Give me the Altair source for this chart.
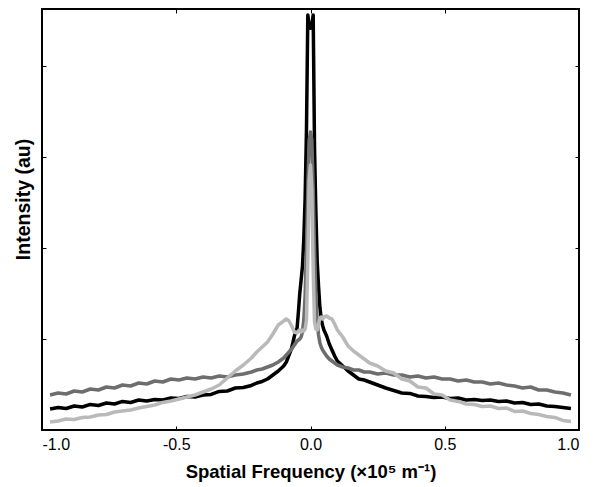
import altair as alt
import pandas as pd

# spatial frequency (x 1e5 m^-1)
freq = [-0.97,-0.94,-0.91,-0.88,-0.85,-0.82,-0.79,-0.76,-0.73,-0.70,-0.67,-0.64,-0.61,-0.58,-0.55,-0.52,-0.49,-0.46,-0.43,-0.40,-0.37,-0.34,-0.31,-0.28,-0.25,
        -0.22,-0.20,-0.18,-0.16,-0.14,-0.12,-0.10,-0.09,-0.08,-0.07,-0.06,
        -0.05,-0.045,-0.04,-0.035,-0.03,-0.025,-0.02,-0.015,-0.01,-0.005,0.0,0.005,0.01,0.015,0.02,0.025,0.03,0.035,0.04,0.045,0.05,
        0.06,0.07,0.08,0.09,0.10,0.12,0.14,0.16,0.18,0.20,0.22,
        0.25,0.28,0.31,0.34,0.37,0.40,0.43,0.46,0.49,0.52,0.55,0.58,0.61,0.64,0.67,0.70,0.73,0.76,0.79,0.82,0.85,0.88,0.91,0.94,0.97]

black = [0.231,0.248,0.237,0.264,0.253,0.281,0.270,0.297,0.286,0.314,0.303,0.330,0.319,0.336,0.330,0.352,0.347,0.369,0.363,0.385,0.391,0.424,0.429,0.462,0.468,
         0.490,0.517,0.534,0.561,0.605,0.649,0.704,0.748,0.825,0.902,1.034,
         1.120,1.300,1.500,1.650,1.800,2.100,2.550,3.300,4.565,4.450,4.420,4.450,4.565,3.100,2.400,1.850,1.580,1.350,1.220,1.150,1.100,
         1.034,0.946,0.880,0.814,0.759,0.704,0.649,0.605,0.561,0.550,0.528,
         0.495,0.462,0.435,0.407,0.402,0.374,0.369,0.358,0.363,0.347,0.352,0.330,0.336,0.325,0.330,0.314,0.319,0.297,0.303,0.281,0.286,0.264,0.259,0.248,0.237]

dark_gray = [0.385,0.407,0.396,0.429,0.418,0.451,0.440,0.473,0.462,0.495,0.484,0.517,0.506,0.539,0.528,0.561,0.550,0.572,0.561,0.583,0.572,0.594,0.583,0.605,0.616,
             0.638,0.660,0.671,0.693,0.715,0.748,0.792,0.825,0.858,0.891,0.935,
             0.979,0.990,1.001,1.023,1.078,1.210,1.485,1.980,2.640,3.190,3.278,3.190,2.640,1.980,1.485,1.188,1.045,0.957,0.913,0.880,0.858,
             0.814,0.781,0.759,0.737,0.715,0.693,0.682,0.660,0.660,0.638,0.638,
             0.616,0.627,0.605,0.605,0.583,0.594,0.572,0.583,0.561,0.561,0.539,0.550,0.528,0.528,0.506,0.517,0.495,0.484,0.462,0.473,0.440,0.440,0.418,0.407,0.385]

light_gray = [0.088,0.099,0.121,0.116,0.138,0.143,0.165,0.171,0.198,0.209,0.220,0.242,0.259,0.275,0.303,0.319,0.341,0.363,0.385,0.418,0.451,0.495,0.572,0.649,0.715,
              0.792,0.858,0.913,0.968,1.056,1.155,1.199,1.221,1.199,1.144,1.078,
              1.067,1.089,1.100,1.078,1.100,1.089,1.111,1.210,1.870,2.750,2.915,2.640,1.760,1.188,1.111,1.100,1.166,1.232,1.243,1.221,1.243,
              1.254,1.232,1.221,1.166,1.100,1.023,0.924,0.869,0.825,0.781,0.737,
              0.704,0.649,0.627,0.561,0.539,0.473,0.462,0.396,0.385,0.330,0.314,0.286,0.281,0.259,0.264,0.237,0.242,0.204,0.209,0.182,0.171,0.149,0.138,0.105,0.094]

x_ticks = [-1.0, -0.5, 0.0, 0.5, 1.0]
y_ticks = [1, 2, 3, 4]

rows = []
for name, ys in [("black", black), ("dark", dark_gray), ("light", light_gray)]:
    for i, (xv, yv) in enumerate(zip(freq, ys)):
        rows.append({"x": xv, "y": yv, "s": name, "i": i})
df = pd.DataFrame(rows)

xs = alt.Scale(domain=[-1, 1], nice=False, zero=False)
ys_ = alt.Scale(domain=[0, 4.631], nice=False, zero=False)

FONT = "Liberation Sans"

bottom_axis = alt.Axis(orient="bottom", values=x_ticks,
                       labelExpr="replace(format(datum.value, '.1f'), '\u2212', '-')",
                       domain=False, grid=False, tickSize=4, offset=-4, tickColor="black", tickWidth=1,
                       labelFont=FONT, labelFontSize=16, labelColor="black", labelPadding=19,
                       labelBaseline="alphabetic",
                       title="Spatial Frequency (\u00d710\u2075 m\u207b\u00b9)", titleFont=FONT, titleFontSize=18.5,
                       titleFontWeight="bold", titleColor="black", titleY=51, titleBaseline="alphabetic")
left_axis = alt.Axis(orient="left", values=y_ticks, labels=False, domain=False, grid=False,
                     tickSize=4, offset=-4, tickColor="black", tickWidth=1,
                     title="Intensity (au)", titleFont=FONT, titleFontSize=19.5, titleFontWeight="bold",
                     titleColor="black", titleX=-17, titleY=190, titleAngle=270, titleAlign="center",
                     titleBaseline="alphabetic")
top_axis = alt.Axis(orient="top", values=x_ticks, labels=False, domain=False, grid=False,
                    tickSize=4, offset=-4, tickColor="black", tickWidth=1, title="")
right_axis = alt.Axis(orient="right", values=y_ticks, labels=False, domain=False, grid=False,
                      tickSize=4, offset=-4, tickColor="black", tickWidth=1, title="")

base = alt.Chart(df)

axes_bl = base.mark_line(opacity=0).encode(
    x=alt.X("x:Q", scale=xs, axis=bottom_axis),
    y=alt.Y("y:Q", scale=ys_, axis=left_axis),
    detail="s:N")
axes_tr = base.mark_line(opacity=0).encode(
    x=alt.X("x:Q", scale=xs, axis=top_axis),
    y=alt.Y("y:Q", scale=ys_, axis=right_axis),
    detail="s:N")

def series(name, color):
    return base.transform_filter(alt.datum.s == name).mark_line(
        color=color, strokeWidth=3.5, clip=True, strokeJoin="round").encode(
        x=alt.X("x:Q", scale=xs, axis=None),
        y=alt.Y("y:Q", scale=ys_, axis=None),
        order="i:Q")

chart = alt.layer(
    axes_bl, axes_tr,
    series("black", "#000000"),
    series("dark", "#6e6e6e"),
    series("light", "#b9b9b9"),
).resolve_axis(x="independent", y="independent").properties(
    width=537, height=421,
    autosize=alt.AutoSizeParams(type="none"),
    padding={"left": 34, "top": 1, "right": 10, "bottom": 54},
).configure_view(stroke="black", strokeWidth=2)

chart.save("out.html", embed_options={"renderer": "svg", "actions": False})
